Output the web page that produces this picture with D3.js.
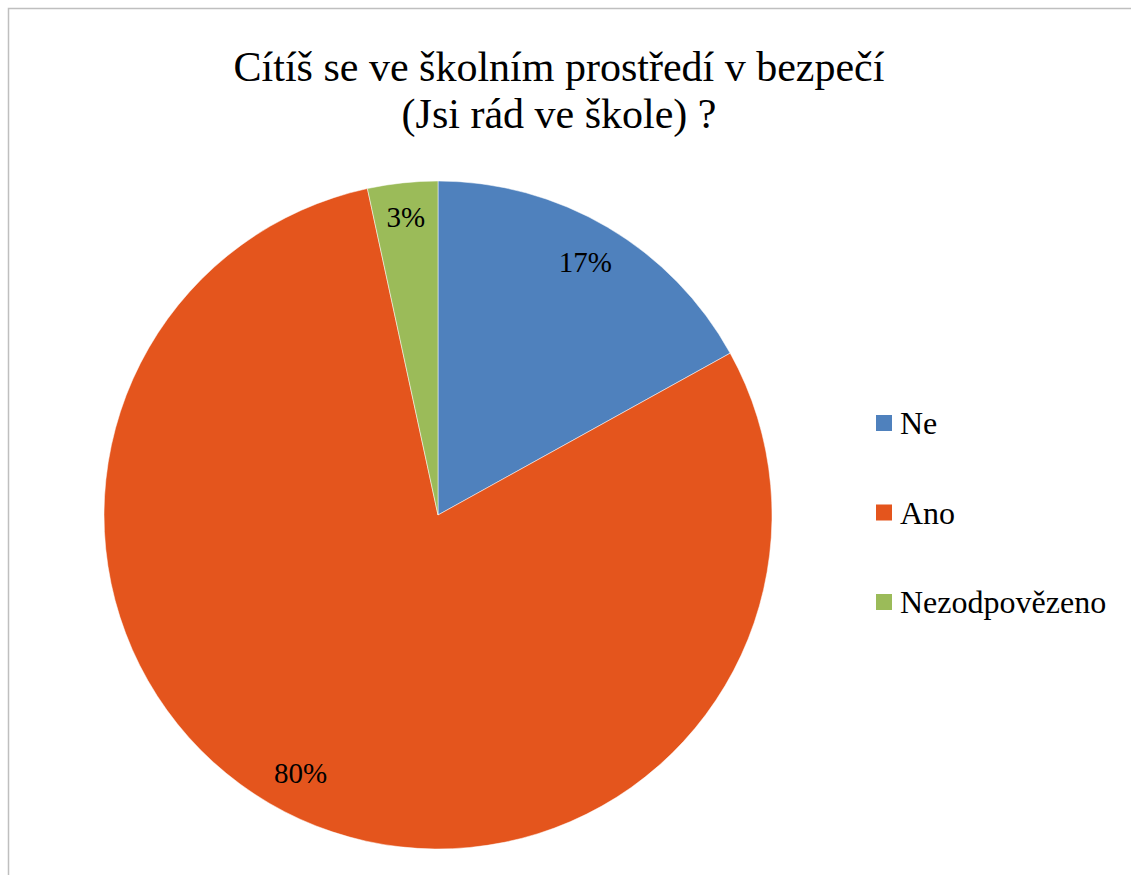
<!DOCTYPE html>
<html>
<head>
<meta charset="utf-8">
<script src="https://cdn.jsdelivr.net/npm/d3@7"></script>
<style>
  body { margin: 0; background: #fff; }
  text { font-family: "Liberation Serif", "DejaVu Serif", serif; }
</style>
</head>
<body>
<div id="chart"></div>
<script>
// answers (counts)
const categories = ["Ne", "Ano", "Nezodpovězeno"];
const counts = [10, 47, 2];
const colors = ["#4F81BD", "#E4551D", "#9BBB59"];
const titleLines = ["Cítíš se ve školním prostředí v bezpečí", "(Jsi rád ve škole) ?"];

const width = 1131, height = 875;
const font = "'Liberation Serif', 'DejaVu Serif', serif";
const svg = d3.select("#chart").append("svg")
  .attr("width", width)
  .attr("height", height);

// chart frame (only top and left edges fall inside the shot)
svg.append("rect")
  .attr("x", 8.5).attr("y", 8.5)
  .attr("width", width + 20).attr("height", height + 20)
  .style("fill", "none")
  .style("stroke", "#BFBFBF")
  .style("stroke-width", 1.5);

// title
svg.append("g").selectAll("text")
  .data(titleLines)
  .enter().append("text")
  .attr("x", 559)
  .attr("y", (d, i) => 81 + i * 47)
  .attr("text-anchor", "middle")
  .attr("font-family", font)
  .style("font-size", "42px")
  .text(d => d);

const cx = 438, cy = 515, radius = 334;
const total = d3.sum(counts);
const data = categories.map((c, i) => ({ name: c, value: counts[i] }));

const pie = d3.pie().value(d => d.value).sort(null);
const arc = d3.arc().innerRadius(0).outerRadius(radius);
const labelArc = d3.arc().innerRadius(radius * 0.88).outerRadius(radius * 0.88);
const color = d3.scaleOrdinal().domain(categories).range(colors);

// small manual nudges, like Excel's "best fit" placement
const labelNudge = { "Ne": [-2, 0], "Ano": [-16, -10], "Nezodpovězeno": [-1, -6] };

const pieGroup = svg.append("g").attr("transform", `translate(${cx},${cy})`);

pieGroup.selectAll("path")
  .data(pie(data))
  .enter().append("path")
  .attr("d", arc)
  .style("fill", d => color(d.data.name))
  .style("stroke", "white")
  .style("stroke-width", 0.5);

pieGroup.selectAll(".slice-label")
  .data(pie(data))
  .enter().append("text")
  .attr("class", "slice-label")
  .attr("transform", function (d) {
    const c = labelArc.centroid(d);
    const n = labelNudge[d.data.name];
    return `translate(${c[0] + n[0]},${c[1] + n[1]})`;
  })
  .attr("text-anchor", "middle")
  .attr("dy", "0.35em")
  .attr("font-family", font)
  .style("font-size", "29px")
  .text(d => d3.format(".0%")(d.value / total));

// legend
const legend = svg.append("g").attr("transform", "translate(876, 423)");
const legendItem = legend.selectAll("g")
  .data(categories)
  .enter().append("g")
  .attr("transform", (d, i) => `translate(0, ${i * 89.5})`);

legendItem.append("rect")
  .attr("x", 0).attr("y", -8)
  .attr("width", 16).attr("height", 16)
  .style("fill", d => color(d));

legendItem.append("text")
  .attr("x", 24)
  .attr("dy", "0.35em")
  .attr("font-family", font)
  .style("font-size", "32px")
  .text(d => d);
</script>
</body>
</html>
